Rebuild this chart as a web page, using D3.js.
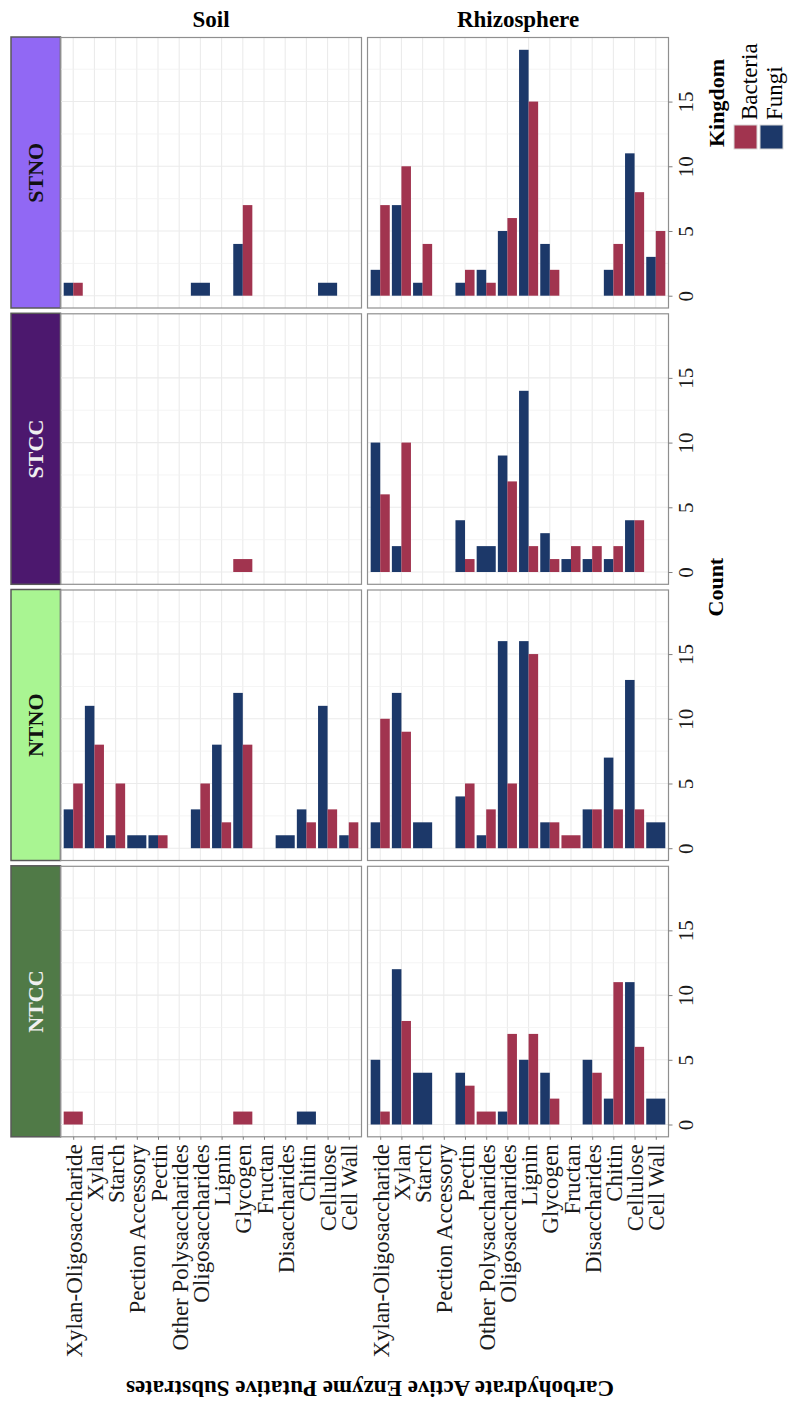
<!DOCTYPE html>
<html>
<head>
<meta charset="utf-8">
<script src="https://cdn.jsdelivr.net/npm/d3@7"></script>
<style>
  body { margin: 0; background: white; }
  svg text { font-family: "Liberation Serif", "Times New Roman", serif; }
</style>
</head>
<body>
<div id="chart"></div>
<script>

// categories on the substrate axis
var categories = ["Xylan-Oligosaccharide", "Xylan", "Starch", "Pection Accessory", "Pectin",
                  "Other Polysaccharides", "Oligosaccharides", "Lignin", "Glycogen", "Fructan",
                  "Disaccharides", "Chitin", "Cellulose", "Cell Wall"]
var treatments = ["STNO", "STCC", "NTNO", "NTCC"]
var compartments = ["Soil", "Rhizosphere"]
var kingdoms = ["Bacteria", "Fungi"]
var countTicks = [0, 5, 10, 15]

// counts per category (0 = not present)
var stnoSoilFungi     = [1, 0, 0, 0, 0, 0, 1, 0, 4, 0, 0, 0, 1, 0]
var stnoSoilBacteria  = [1, 0, 0, 0, 0, 0, 0, 0, 7, 0, 0, 0, 0, 0]
var stnoRhizoFungi    = [2, 7, 1, 0, 1, 2, 5, 19, 4, 0, 0, 2, 11, 3]
var stnoRhizoBacteria = [7, 10, 4, 0, 2, 1, 6, 15, 2, 0, 0, 4, 8, 5]
var stccSoilFungi     = [0, 0, 0, 0, 0, 0, 0, 0, 0, 0, 0, 0, 0, 0]
var stccSoilBacteria  = [0, 0, 0, 0, 0, 0, 0, 0, 1, 0, 0, 0, 0, 0]
var stccRhizoFungi    = [10, 2, 0, 0, 4, 2, 9, 14, 3, 1, 1, 1, 4, 0]
var stccRhizoBacteria = [6, 10, 0, 0, 1, 0, 7, 2, 1, 2, 2, 2, 4, 0]
var ntnoSoilFungi     = [3, 11, 1, 1, 1, 0, 3, 8, 12, 0, 1, 3, 11, 1]
var ntnoSoilBacteria  = [5, 8, 5, 0, 1, 0, 5, 2, 8, 0, 0, 2, 3, 2]
var ntnoRhizoFungi    = [2, 12, 2, 0, 4, 1, 16, 16, 2, 0, 3, 7, 13, 2]
var ntnoRhizoBacteria = [10, 9, 0, 0, 5, 3, 5, 15, 2, 1, 3, 3, 3, 0]
var ntccSoilFungi     = [0, 0, 0, 0, 0, 0, 0, 0, 0, 0, 0, 1, 0, 0]
var ntccSoilBacteria  = [1, 0, 0, 0, 0, 0, 0, 0, 1, 0, 0, 0, 0, 0]
var ntccRhizoFungi    = [5, 12, 4, 0, 4, 0, 1, 5, 4, 0, 5, 2, 11, 2]
var ntccRhizoBacteria = [1, 8, 0, 0, 3, 1, 7, 7, 2, 0, 4, 11, 6, 0]

// panel table built from the arrays above
var panelData = {
  "STNO": [[stnoSoilFungi, stnoSoilBacteria], [stnoRhizoFungi, stnoRhizoBacteria]],
  "STCC": [[stccSoilFungi, stccSoilBacteria], [stccRhizoFungi, stccRhizoBacteria]],
  "NTNO": [[ntnoSoilFungi, ntnoSoilBacteria], [ntnoRhizoFungi, ntnoRhizoBacteria]],
  "NTCC": [[ntccSoilFungi, ntccSoilBacteria], [ntccRhizoFungi, ntccRhizoBacteria]]
}

var stripFill = {"STNO": "#9168f4", "STCC": "#4c186e", "NTNO": "#a9f592", "NTCC": "#507a47"}
var stripText = {"STNO": "#111", "STCC": "#f0f0f0", "NTNO": "#111", "NTCC": "#f0f0f0"}

var serif = "'Liberation Serif', 'Times New Roman', serif"

var color = d3.scaleOrdinal()
  .domain(kingdoms)
  .range(["#a1344f", "#1c3869"])

// layout
var width = 788
    height = 1401
    panelW = 301
    panelH = 270.5
    colX = [60.5, 367.5]
    rowY = [37.5, 313.8, 590, 866.3]
    stripX = 11
    stripW = 49.5

var x = d3.scalePoint()
  .domain(categories)
  .range([0, panelW])
  .padding(0.6)

var y = d3.scaleLinear()
  .domain([-0.95, 19.95])
  .range([panelH, 0])

var step = x.step()
var barW = step * 0.9

var svg = d3.select("#chart")
  .append("svg")
    .attr("width", width)
    .attr("height", height)

svg.append("rect")
  .attr("width", width)
  .attr("height", height)
  .attr("fill", "white")

// column headers
compartments.forEach(function(c, j) {
  svg.append("text")
    .attr("x", colX[j] + panelW / 2)
    .attr("y", 27)
    .attr("text-anchor", "middle")
    .attr("font-family", serif)
    .style("font-size", "23px")
    .style("font-weight", "bold")
    .text(c)
})

treatments.forEach(function(t, i) {

  // strip on the left
  svg.append("rect")
    .attr("x", stripX)
    .attr("y", rowY[i] - 0.5)
    .attr("width", stripW)
    .attr("height", panelH + 0.5)
    .attr("fill", stripFill[t])
    .attr("stroke", "#595959")
    .attr("stroke-width", 1.5)

  svg.append("text")
    .attr("transform", "translate(" + (stripX + stripW / 2) + "," + (rowY[i] + panelH / 2) + ") rotate(-90)")
    .attr("text-anchor", "middle")
    .attr("dy", "0.35em")
    .attr("fill", stripText[t])
    .attr("font-family", serif)
    .style("font-size", "22px")
    .style("font-weight", "bold")
    .text(t)

  compartments.forEach(function(c, j) {
    var g = svg.append("g")
      .attr("transform", "translate(" + colX[j] + "," + rowY[i] + ")")

    // grid lines
    g.selectAll(".vgrid")
      .data(categories)
      .enter()
      .append("line")
        .attr("x1", function(d) { return x(d) })
        .attr("x2", function(d) { return x(d) })
        .attr("y1", 0)
        .attr("y2", panelH)
        .attr("stroke", "#ebebeb")
        .attr("stroke-width", 1.1)

    g.selectAll(".hgrid")
      .data([0, 2.5, 5, 7.5, 10, 12.5, 15, 17.5])
      .enter()
      .append("line")
        .attr("x1", 0)
        .attr("x2", panelW)
        .attr("y1", function(d) { return y(d) })
        .attr("y2", function(d) { return y(d) })
        .attr("stroke", function(d) { return d % 5 == 0 ? "#ebebeb" : "#f1f1f1" })
        .attr("stroke-width", function(d) { return d % 5 == 0 ? 1.1 : 0.8 })

    // bars: fungi on the left, bacteria on the right, full width if one is missing
    var fungi = panelData[t][j][0]
    var bacteria = panelData[t][j][1]
    var bars = []
    categories.forEach(function(cat, k) {
      var f = fungi[k], b = bacteria[k]
      var left = x(cat) - barW / 2
      if (f > 0 && b > 0) {
        bars.push({kingdom: "Fungi", x0: left, w: barW / 2, value: f})
        bars.push({kingdom: "Bacteria", x0: left + barW / 2, w: barW / 2, value: b})
      } else if (f > 0) {
        bars.push({kingdom: "Fungi", x0: left, w: barW, value: f})
      } else if (b > 0) {
        bars.push({kingdom: "Bacteria", x0: left, w: barW, value: b})
      }
    })

    g.selectAll(".bar")
      .data(bars)
      .enter()
      .append("rect")
        .attr("x", function(d) { return d.x0 })
        .attr("width", function(d) { return d.w })
        .attr("y", function(d) { return y(d.value) })
        .attr("height", function(d) { return y(0) - y(d.value) })
        .attr("fill", function(d) { return color(d.kingdom) })

    // panel border
    g.append("rect")
      .attr("width", panelW)
      .attr("height", panelH)
      .attr("fill", "none")
      .attr("stroke", "#8f8f8f")
      .attr("stroke-width", 1.2)

    // count axis on the right of the last column
    if (j == 1) {
      var ya = g.append("g")
        .attr("transform", "translate(" + panelW + ",0)")
        .call(d3.axisRight(y).tickValues(countTicks).tickSize(4).tickSizeOuter(0))
      ya.select(".domain").remove()
      ya.selectAll("line").attr("stroke", "#7f7f7f")
      ya.selectAll("text")
        .attr("x", null)
        .attr("dy", null)
        .attr("transform", "translate(24.5,0) rotate(-90)")
        .attr("text-anchor", "middle")
        .attr("fill", "#1a1a1a")
        .attr("font-family", serif)
        .attr("font-size", 21)
    }

    // substrate axis under the last row
    if (i == 3) {
      var xa = g.append("g")
        .attr("transform", "translate(0," + panelH + ")")
        .call(d3.axisBottom(x).tickSize(3).tickSizeOuter(0))
      xa.select(".domain").remove()
      xa.selectAll("line").attr("stroke", "#7f7f7f")
      xa.selectAll("text")
        .attr("y", 0)
        .attr("x", -7.5)
        .attr("dy", "0.35em")
        .attr("transform", "rotate(-90)")
        .attr("text-anchor", "end")
        .attr("fill", "#1a1a1a")
        .attr("font-family", serif)
        .attr("font-size", 23)
    }
  })
})

// axis titles
svg.append("text")
  .attr("transform", "translate(723," + (rowY[0] + (rowY[3] + panelH - rowY[0]) / 2) + ") rotate(-90)")
  .attr("text-anchor", "middle")
  .attr("font-family", serif)
  .style("font-size", "22px")
  .style("font-weight", "bold")
  .text("Count")

svg.append("text")
  .attr("transform", "translate(370,1381) rotate(180)")
  .attr("text-anchor", "middle")
  .attr("font-family", serif)
  .style("font-size", "23px")
  .style("font-weight", "bold")
  .text("Carbohydrate Active Enzyme Putative Substrates")

// legend
svg.append("text")
  .attr("transform", "translate(724,147) rotate(-90)")
  .attr("text-anchor", "start")
  .attr("font-family", serif)
  .style("font-size", "22px")
  .style("font-weight", "bold")
  .text("Kingdom")

kingdoms.forEach(function(k, n) {
  svg.append("rect")
    .attr("x", 734 + n * 26)
    .attr("y", 125)
    .attr("width", 23)
    .attr("height", 24)
    .attr("fill", color(k))
    .attr("stroke", "#d9d9d9")
    .attr("stroke-width", 1)

  svg.append("text")
    .attr("transform", "translate(" + (757 + n * 25) + ",120) rotate(-90)")
    .attr("text-anchor", "start")
    .attr("font-family", serif)
    .style("font-size", "23px")
    .text(k)
})

</script>
</body>
</html>
